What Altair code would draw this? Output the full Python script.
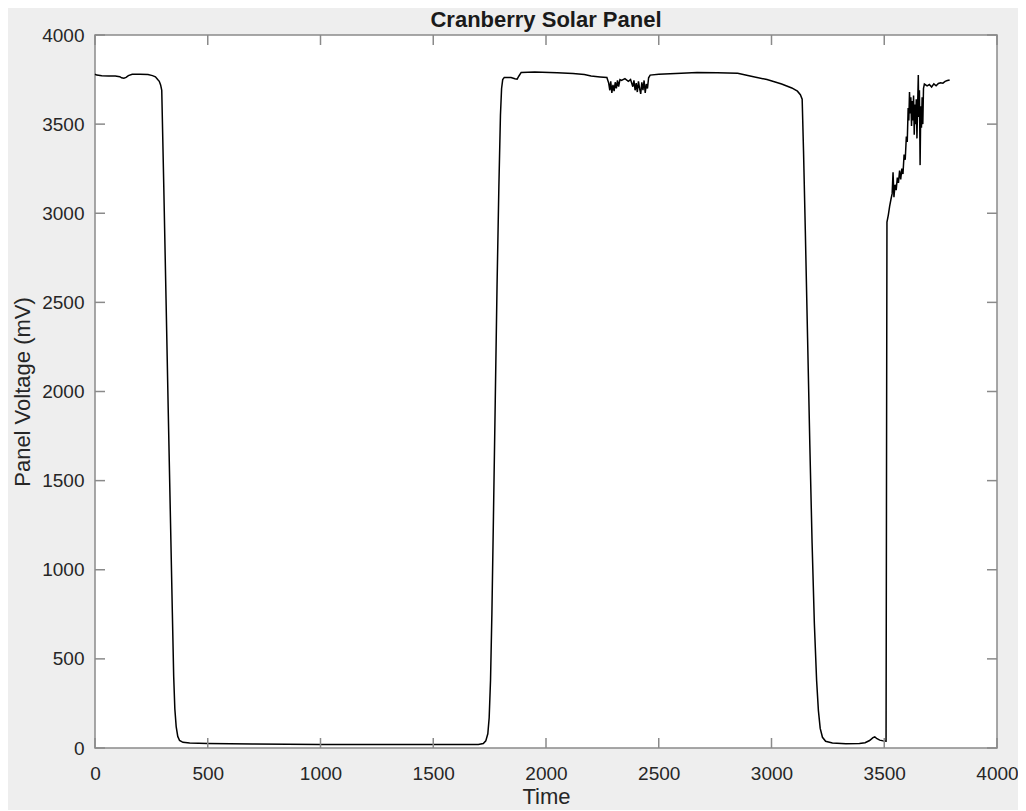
import altair as alt
import pandas as pd

TITLE = "Cranberry Solar Panel"
X_TITLE = "Time"
Y_TITLE = "Panel Voltage (mV)"

X_TICKS = [0, 500, 1000, 1500, 2000, 2500, 3000, 3500, 4000]
Y_TICKS = [0, 500, 1000, 1500, 2000, 2500, 3000, 3500, 4000]

TIME = [
    0, 8, 30, 60, 90, 110, 118, 128, 138, 148, 165, 200, 235, 255, 268, 278, 285, 291, 296,
    305, 315, 325, 335, 343, 349, 354, 360, 367, 375, 390, 420, 500, 700, 1000, 1300, 1600,
    1700, 1722, 1733, 1742, 1748, 1754, 1760, 1767, 1775, 1783, 1791, 1798, 1803, 1808, 1815,
    1845, 1862, 1872, 1880, 1890, 1950, 2050, 2120, 2170, 2200, 2240, 2270,
    2278, 2283, 2287, 2292, 2297, 2302, 2307, 2312, 2317, 2322, 2328, 2335, 2350, 2365, 2375,
    2385, 2390, 2395, 2400, 2405, 2410, 2415, 2420, 2425, 2430, 2435, 2440, 2445, 2450, 2455, 2462,
    2500, 2600, 2670, 2760, 2850, 2910, 2980, 3045, 3090, 3115, 3128, 3136,
    3142, 3150, 3160, 3170, 3180, 3190, 3200, 3208, 3216, 3226, 3240, 3270, 3330, 3390, 3415,
    3435, 3450, 3458, 3468, 3480, 3495, 3508,
    3512, 3518, 3524, 3530, 3535, 3539, 3543, 3548, 3553, 3558, 3563, 3568, 3573, 3578, 3583,
    3588, 3593, 3598, 3602, 3606, 3609, 3612, 3615, 3618, 3621, 3624, 3627, 3630, 3633, 3636,
    3639, 3642, 3645, 3648, 3651, 3653, 3656, 3659, 3662, 3665, 3668, 3671, 3674, 3678, 3690,
    3700, 3710, 3720, 3730, 3740, 3750, 3760, 3770, 3780, 3790,
]

VOLTAGE = [
    3780, 3775, 3772, 3770, 3770, 3766, 3760, 3758, 3762, 3772, 3780, 3780, 3778, 3772, 3765, 3750, 3740, 3720, 3690,
    3150, 2520, 1880, 1260, 760, 400, 220, 120, 65, 42, 32, 28, 25, 22, 20, 19, 19,
    20, 25, 40, 80, 170, 380, 750, 1300, 1950, 2600, 3150, 3550, 3700, 3750, 3762,
    3762, 3755, 3752, 3770, 3790, 3792, 3788, 3784, 3778, 3770, 3765, 3762,
    3730, 3690, 3740, 3675, 3720, 3685, 3735, 3700, 3745, 3710, 3750, 3745, 3755, 3740, 3750,
    3710, 3745, 3690, 3730, 3680, 3740, 3700, 3670, 3735, 3690, 3745, 3675, 3725, 3700, 3760, 3775,
    3780, 3785, 3790, 3788, 3785, 3768, 3750, 3725, 3703, 3685, 3665, 3640,
    3350, 2900, 2300, 1700, 1150, 700, 380, 210, 110, 60, 38, 28, 24, 25, 30,
    42, 58, 62, 52, 44, 40, 38,
    2950, 2990, 3040, 3080, 3110, 3230, 3090, 3160, 3130, 3200, 3170, 3240, 3190, 3250, 3220,
    3330, 3300, 3430, 3400, 3590, 3520, 3680, 3560, 3650, 3490, 3630, 3520, 3660, 3440, 3610,
    3500, 3640, 3420, 3600, 3775, 3540, 3690, 3270, 3600, 3480, 3650, 3500, 3700, 3725, 3715,
    3722, 3708, 3726, 3715, 3728, 3732, 3730, 3740, 3745, 3748,
]

W, H = 902, 713
TICK_LEN = 10
GRAY = "#8a8a8a"
TEXT = "#262626"
FONT = "Liberation Sans"

df = pd.DataFrame({"Time": TIME, "Voltage": VOLTAGE})
xt = pd.DataFrame({"Time": X_TICKS})
yt = pd.DataFrame({"Voltage": Y_TICKS})

xs = alt.Scale(domain=[0, 4000], nice=False, zero=False)
ys = alt.Scale(domain=[0, 4000], nice=False, zero=False)

x_axis = alt.Axis(values=X_TICKS, title=X_TITLE, ticks=False, domain=False, grid=False,
                  labelPadding=16, titlePadding=3, labelFlush=False, labelOverlap=False,
                  format="d")
y_axis = alt.Axis(values=Y_TICKS, title=Y_TITLE, ticks=False, domain=False, grid=False,
                  labelPadding=11, titlePadding=7, labelFlush=False, labelOverlap=False,
                  format="d")

X = alt.X("Time:Q", scale=xs, axis=x_axis, title=X_TITLE)
Y = alt.Y("Voltage:Q", scale=ys, axis=y_axis, title=Y_TITLE)

line = alt.Chart(df).mark_line(color="black", strokeWidth=1.5).encode(x=X, y=Y)

rule_style = dict(color=GRAY, strokeWidth=1.5)

bottom_ticks = alt.Chart(xt).mark_rule(**rule_style).encode(
    x=X, y=alt.value(H), y2=alt.value(H - TICK_LEN))
top_ticks = alt.Chart(xt).mark_rule(**rule_style).encode(
    x=X, y=alt.value(0), y2=alt.value(TICK_LEN))
left_ticks = alt.Chart(yt).mark_rule(**rule_style).encode(
    y=Y, x=alt.value(0), x2=alt.value(TICK_LEN))
right_ticks = alt.Chart(yt).mark_rule(**rule_style).encode(
    y=Y, x=alt.value(W), x2=alt.value(W - TICK_LEN))

chart = alt.layer(line, bottom_ticks, top_ticks, left_ticks, right_ticks).properties(
    width=W, height=H,
    title=alt.TitleParams(TITLE, font=FONT, fontSize=22, fontWeight="bold", color="#1a1a1a",
                          anchor="middle", offset=-6),
    autosize=alt.AutoSizeParams(type="none"),
    padding={"left": 87, "top": 27, "right": 21, "bottom": 62},
    background="#eeeeee",
).configure_view(
    fill="white", stroke=GRAY, strokeWidth=1.5
).configure_axis(
    labelFont=FONT, labelFontSize=19, labelColor=TEXT,
    titleFont=FONT, titleFontSize=22, titleColor=TEXT, titleFontWeight="normal",
)

chart.save("out.html", embed_options={"renderer": "svg", "actions": False})
